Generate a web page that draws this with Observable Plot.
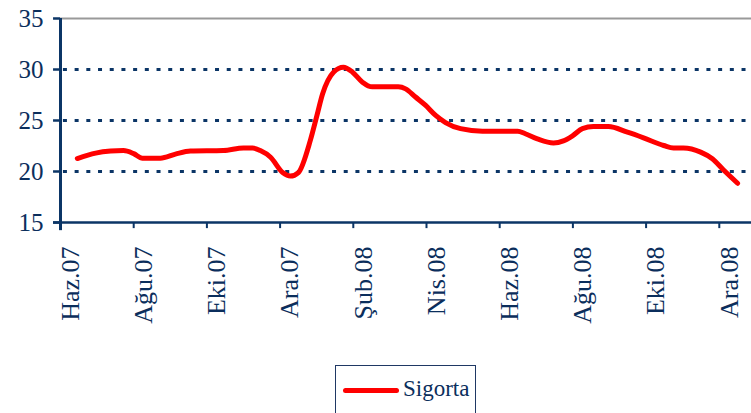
<!DOCTYPE html>
<html>
<head>
<meta charset="utf-8">
<script src="https://cdn.jsdelivr.net/npm/d3@7"></script>
<script src="https://cdn.jsdelivr.net/npm/@observablehq/plot@0.6"></script>
<style>
  html, body { margin: 0; padding: 0; background: #fff; overflow: hidden; }
  #wrap { position: relative; width: 751px; height: 413px; }
  #legend { position: absolute; left: 335px; top: 365px; width: 141px; height: 60px;
            border: 1.5px solid #1f3864; box-sizing: border-box; }
  #legend .sw { position: absolute; left: 7px; top: 22px; width: 56px; height: 5px;
                background: #ff0000; border-radius: 3px; }
  #legend .lb { position: absolute; left: 67px; top: 8px; font-family: "Liberation Serif", serif;
                font-size: 23px; color: #0b2e5c; line-height: 30px; }
</style>
</head>
<body>
<div id="wrap">
  <div id="chart"></div>
  <div id="legend"><div class="sw"></div><div class="lb">Sigorta</div></div>
</div>
<script>
// Time position in months from the Haz.07 tick
const months = [0.46, 0.96, 1.37, 1.72, 2.0, 2.24, 2.73, 3.14, 3.55, 4.45, 5.0, 5.25, 5.46, 5.74,
  6.07, 6.28, 6.5, 6.83, 7.0, 7.16, 7.46, 7.73, 7.98, 8.25, 8.52, 9.23, 9.43, 9.7, 9.97, 10.25,
  10.52, 10.93, 11.53, 12.49, 12.7, 13.03, 13.47, 13.74, 13.99, 14.26, 14.56, 14.97, 15.49,
  15.93, 16.48, 16.75, 17.02, 17.49, 17.81, 18.11, 18.5];
const sigorta = [21.27, 21.8, 22.0, 22.05, 21.75, 21.3, 21.3, 21.7, 22.0, 22.05, 22.3, 22.3, 22.05, 21.4,
  19.9, 19.55, 19.9, 23.1, 25.4, 27.6, 29.74, 30.22, 29.74, 28.76, 28.3, 28.3, 28.1, 27.3, 26.5, 25.5,
  24.8, 24.2, 23.95, 23.95, 23.7, 23.2, 22.8, 23.0, 23.5, 24.2, 24.4, 24.4, 23.85,
  23.3, 22.55, 22.3, 22.3, 21.9, 21.25, 20.17, 18.85];
const tickLabels = ["Haz.07", "Ağu.07", "Eki.07", "Ara.07", "Şub.08", "Nis.08", "Haz.08", "Ağu.08", "Eki.08", "Ara.08"];
const tickPos = [0, 2, 4, 6, 8, 10, 12, 14, 16, 18];
const yTicks = [15, 20, 25, 30, 35];
const gridY = [20, 25, 30];

const data = months.map((m, i) => ({m, v: sigorta[i]}));
const labels = tickLabels.map((t, i) => ({x: tickPos[i] + 0.5, t}));

const navy = "#0b3566";
const textC = "#0b2e5c";
const font = "Liberation Serif, serif";

const chart = Plot.plot({
  width: 751,
  height: 360,
  marginTop: 18,
  marginBottom: 138,
  marginLeft: 60,
  marginRight: 0,
  x: {domain: [0, 18.88], axis: null},
  y: {domain: [15, 35], axis: null},
  style: {fontFamily: font, background: "#fff", overflow: "visible"},
  marks: [
    Plot.ruleY(gridY, {x1: 0.08, x2: 18.88, stroke: navy, strokeWidth: 3, strokeDasharray: "4,7.7"}),
    Plot.ruleY([35], {x1: 0, x2: 18.88, stroke: "#999999", strokeWidth: 2}),
    Plot.ruleY(yTicks, {x1: -0.19, x2: 0, stroke: navy, strokeWidth: 2.5}),
    Plot.ruleY([15], {x1: -0.19, x2: 18.88, stroke: navy, strokeWidth: 2.5}),
    Plot.ruleX([0], {y1: 35, y2: 14.2, stroke: navy, strokeWidth: 3}),
    Plot.ruleX(tickPos, {y1: 15, y2: 14.4, stroke: navy, strokeWidth: 2}),
    Plot.text(yTicks, {x: 0, y: d => d, text: d => String(d), textAnchor: "end", dx: -17,
      fontSize: 25, fill: textC, fontFamily: font}),
    Plot.text(labels, {x: "x", text: "t", frameAnchor: "bottom", rotate: -90, textAnchor: "end",
      dy: 24, fontSize: 26, fill: textC, fontFamily: font}),
    Plot.line(data, {x: "m", y: "v", stroke: "#ff0000", strokeWidth: 5, curve: "monotone-x",
      strokeLinecap: "round", strokeLinejoin: "round"})
  ]
});
document.getElementById("chart").appendChild(chart);
</script>
</body>
</html>
